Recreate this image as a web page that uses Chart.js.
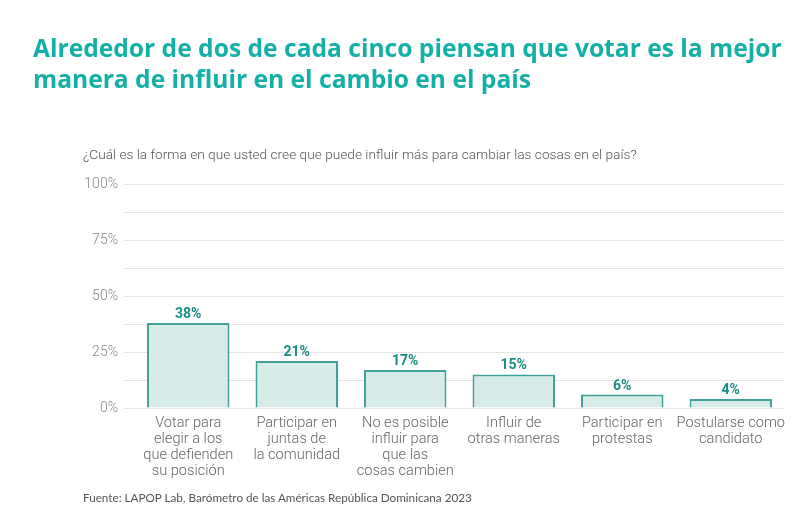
<!DOCTYPE html>
<html>
<head>
<meta charset="utf-8">
<script src="https://cdn.jsdelivr.net/npm/chart.js@4"></script>
<style>
  body { margin: 0; background: #fff; }
  #wrap { position: relative; width: 800px; height: 513px; overflow: hidden; }
  #chart { position: absolute; left: 0; top: 0; }
  .title { position: absolute; left: 33px; top: 32px; font-family: "Open Sans", sans-serif; font-weight: 700;
           font-size: 24.6px; line-height: 31px; color: #14b0a8; white-space: nowrap; }
  .sub { position: absolute; left: 83px; top: 146px; font-family: "Roboto", sans-serif; font-weight: 300;
         font-size: 13.7px; color: #555; white-space: nowrap; }
  .foot { position: absolute; left: 83px; top: 490px; font-family: "Lato", sans-serif;
          font-size: 11.7px; color: #555; white-space: nowrap; }
</style>
</head>
<body>
<div id="wrap">
  <canvas id="chart" width="800" height="513"></canvas>
  <div class="title">Alrededor de dos de cada cinco piensan que votar es la mejor<br>manera de influir en el cambio en el país</div>
  <div class="sub">¿Cuál es la forma en que usted cree que puede influir más para cambiar las cosas en el país?</div>
  <div class="foot">Fuente: LAPOP Lab, Barómetro de las Américas República Dominicana 2023</div>
</div>
<script>
// categorias (etiquetas en varias lineas)
const categorias = [
    ["Votar para", "elegir a los", "que defienden", "su posición"],
    ["Participar en", "juntas de", "la comunidad"],
    ["No es posible", "influir para", "que las", "cosas cambien"],
    ["Influir de", "otras maneras"],
    ["Participar en", "protestas"],
    ["Postularse como", "candidato"]
];
const porcentajes = [38, 21, 17, 15, 6, 4];
const ticksY = [0, 25, 50, 75, 100];

// etiquetas encima de las barras
const etiquetasBarras = {
    id: 'etiquetasBarras',
    afterDatasetsDraw(chart) {
        const ctx = chart.ctx;
        const meta = chart.getDatasetMeta(0);
        ctx.save();
        ctx.font = 'bold 14px "Roboto", sans-serif';
        ctx.fillStyle = '#1a8e86';
        ctx.textAlign = 'center';
        ctx.textBaseline = 'alphabetic';
        meta.data.forEach((bar, i) => {
            ctx.fillText(porcentajes[i] + '%', bar.x, bar.y - 5);
        });
        ctx.restore();
    }
};

new Chart(document.getElementById('chart').getContext('2d'), {
    type: 'bar',
    data: {
        labels: categorias,
        datasets: [{
            data: porcentajes,
            backgroundColor: '#d7ebe9',
            borderColor: '#40a198',
            borderWidth: 2,
            barPercentage: 0.76,
            categoryPercentage: 1
        }]
    },
    options: {
        responsive: false,
        animation: false,
        layout: { padding: { top: 184, right: 15, bottom: 0, left: 0 } },
        plugins: { legend: { display: false }, tooltip: { enabled: false } },
        scales: {
            x: {
                afterFit: (scale) => { scale.height = 105; },
                grid: { display: false },
                border: { display: false },
                ticks: {
                    color: '#666',
                    font: { family: 'Roboto', size: 14.6, weight: 300, lineHeight: 1.1 },
                    padding: -1,
                    maxRotation: 0,
                    autoSkip: false
                }
            },
            y: {
                min: 0,
                max: 100,
                afterFit: (scale) => { scale.width = 134; },
                afterBuildTicks: (scale) => {
                    let t = [];
                    for (let v = 0; v <= 100; v += 12.5) t.push({ value: v });
                    scale.ticks = t;
                },
                grid: { color: '#e3e3e3', lineWidth: 1, tickLength: 10, tickColor: '#e3e3e3' },
                border: { display: false },
                ticks: {
                    color: '#888',
                    padding: 6,
                    font: { family: 'Roboto', size: 14, weight: 300 },
                    callback: (v) => ticksY.includes(v) ? v + '%' : ''
                }
            }
        }
    },
    plugins: [etiquetasBarras]
});
</script>
</body>
</html>
